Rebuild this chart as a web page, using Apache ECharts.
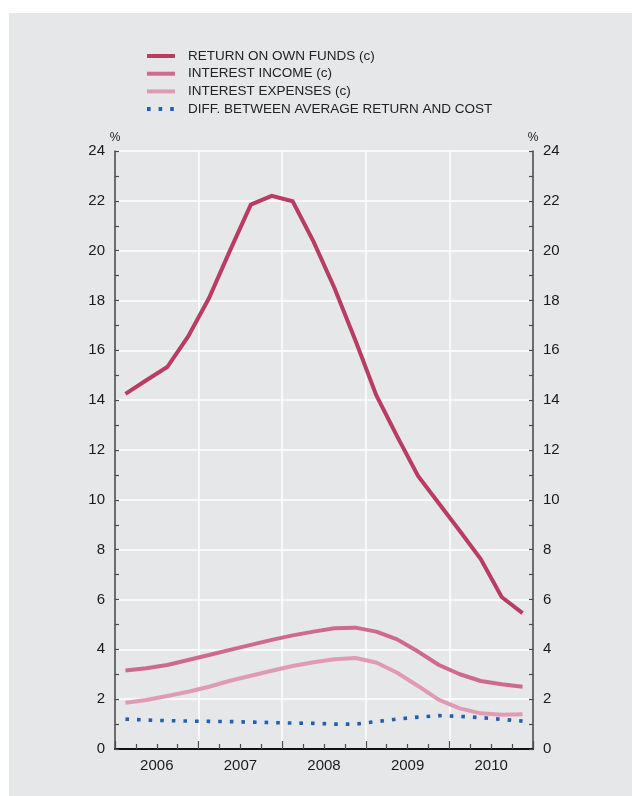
<!DOCTYPE html>
<html>
<head>
<meta charset="utf-8">
<script src="https://cdn.jsdelivr.net/npm/echarts@6/dist/echarts.min.js"></script>
<style>
  html, body { margin: 0; padding: 0; background: #ffffff; }
  #panel { position: absolute; left: 9px; top: 13px; right: 0; bottom: 0; background: #e6e7e9; }
  #chart { position: absolute; left: 0; top: 0; width: 632px; height: 796px; }
</style>
</head>
<body>
<div id="panel"></div>
<div id="chart"></div>
<script>
// Quarterly observations, 2006 Q1 – 2010 Q4 (per cent)
const years = ['2006', '2007', '2008', '2009', '2010'];
const quarters = [
  '2006Q1', '2006Q2', '2006Q3', '2006Q4',
  '2007Q1', '2007Q2', '2007Q3', '2007Q4',
  '2008Q1', '2008Q2', '2008Q3', '2008Q4',
  '2009Q1', '2009Q2', '2009Q3', '2009Q4',
  '2010Q1', '2010Q2', '2010Q3', '2010Q4'
];
const returnOnOwnFunds = [
  14.25, 14.8, 15.33, 16.56, 18.1, 20.0, 21.85, 22.2, 21.98, 20.36,
  18.5, 16.4, 14.2, 12.55, 10.96, 9.85, 8.75, 7.62, 6.1, 5.45
];
const interestIncome = [
  3.15, 3.24, 3.37, 3.57, 3.77, 3.98, 4.18, 4.38, 4.56, 4.71,
  4.85, 4.87, 4.71, 4.4, 3.91, 3.37, 3.0, 2.73, 2.6, 2.5
];
const interestExpenses = [
  1.86, 1.97, 2.13, 2.3, 2.5, 2.74, 2.94, 3.14, 3.33, 3.48,
  3.6, 3.65, 3.47, 3.06, 2.53, 1.97, 1.63, 1.43, 1.37, 1.39
];
const returnCostDiff = [
  1.2, 1.16, 1.14, 1.12, 1.11, 1.1, 1.08, 1.06, 1.04, 1.03,
  1.0, 1.0, 1.1, 1.2, 1.28, 1.34, 1.31, 1.26, 1.19, 1.12
];
const yTicks = { min: 0, max: 24, step: 2 };

// Quarter label -> position at the middle of the quarter on a year scale
function quarterX(label) {
  const y = parseInt(label.slice(0, 4), 10);
  const q = parseInt(label.slice(5), 10);
  return y + (q - 0.5) / 4;
}
function pairs(values) {
  return values.map((v, i) => [quarterX(quarters[i]), v]);
}

const FONT = "'Liberation Sans', Arial, Helvetica, sans-serif";
const TEXT = '#1a1a1a';
const AXIS = '#4a4a4a';

function valueAxis(position) {
  return {
    type: 'value',
    position: position,
    min: yTicks.min,
    max: yTicks.max,
    interval: yTicks.step,
    name: '%',
    nameLocation: 'end',
    nameGap: 10,
    nameTextStyle: { fontFamily: FONT, fontSize: 12, color: TEXT, verticalAlign: 'middle', align: 'center' },
    axisLine: { show: true, lineStyle: { color: AXIS, width: 1.6 } },
    axisTick: { show: true, inside: true, length: 4, lineStyle: { color: AXIS, width: 1.2 } },
    minorTick: { show: true, splitNumber: 2, length: 4, lineStyle: { color: AXIS, width: 1.2 } },
    axisLabel: { fontFamily: FONT, fontSize: 15, color: TEXT, margin: 10 },
    splitLine: { show: position === 'left', lineStyle: { color: '#ffffff', width: 1.5 } }
  };
}

const chart = echarts.init(document.getElementById('chart'), null, { renderer: 'canvas' });

chart.setOption({
  backgroundColor: 'transparent',
  animation: false,
  grid: { left: 115, right: 99, top: 151, bottom: 47, containLabel: false },
  legend: {
    orient: 'vertical',
    left: 145,
    top: 49,
    padding: 0,
    itemWidth: 28,
    itemHeight: 12,
    itemGap: 3.7,
    itemStyle: { opacity: 0 },
    lineStyle: { width: 4 },
    textStyle: { fontFamily: FONT, fontSize: 13.5, lineHeight: 12, color: '#222222', padding: [0, 0, 0, 8] },
    data: [
      'RETURN ON OWN FUNDS (c)',
      'INTEREST INCOME (c)',
      'INTEREST EXPENSES (c)',
      'DIFF. BETWEEN AVERAGE RETURN AND COST'
    ]
  },
  xAxis: [
    {
      type: 'value',
      position: 'bottom',
      min: 2006,
      max: 2011,
      interval: 1,
      axisLine: { show: true, onZero: false, lineStyle: { color: '#111111', width: 2 } },
      axisTick: { show: true, inside: true, length: 8, lineStyle: { color: AXIS, width: 1.2 } },
      minorTick: { show: true, splitNumber: 4, length: 5, lineStyle: { color: AXIS, width: 1.2 } },
      axisLabel: { show: false },
      splitLine: { show: true, lineStyle: { color: '#ffffff', width: 1.5 } }
    },
    {
      type: 'category',
      position: 'bottom',
      data: years,
      boundaryGap: true,
      axisLine: { show: false },
      axisTick: { show: false },
      splitLine: { show: false },
      axisLabel: { fontFamily: FONT, fontSize: 15, color: TEXT, margin: 9 }
    }
  ],
  yAxis: [valueAxis('left'), valueAxis('right')],
  series: [
    {
      name: 'RETURN ON OWN FUNDS (c)',
      type: 'line',
      symbol: 'none',
      xAxisIndex: 0,
      yAxisIndex: 0,
      data: pairs(returnOnOwnFunds),
      lineStyle: { color: '#b93c63', width: 4, join: 'miter' },
      itemStyle: { color: '#b93c63' },
      z: 5
    },
    {
      name: 'INTEREST INCOME (c)',
      type: 'line',
      symbol: 'none',
      xAxisIndex: 0,
      yAxisIndex: 0,
      data: pairs(interestIncome),
      lineStyle: { color: '#cd6a8d', width: 4 },
      itemStyle: { color: '#cd6a8d' },
      z: 4
    },
    {
      name: 'INTEREST EXPENSES (c)',
      type: 'line',
      symbol: 'none',
      xAxisIndex: 0,
      yAxisIndex: 0,
      data: pairs(interestExpenses),
      lineStyle: { color: '#e09bb3', width: 4 },
      itemStyle: { color: '#e09bb3' },
      z: 3
    },
    {
      name: 'DIFF. BETWEEN AVERAGE RETURN AND COST',
      type: 'line',
      symbol: 'none',
      xAxisIndex: 0,
      yAxisIndex: 0,
      data: pairs(returnCostDiff),
      lineStyle: { color: '#2160b0', width: 3.6, type: [3.6, 8], cap: 'butt' },
      itemStyle: { color: '#2160b0' },
      z: 6
    }
  ]
});
</script>
</body>
</html>
